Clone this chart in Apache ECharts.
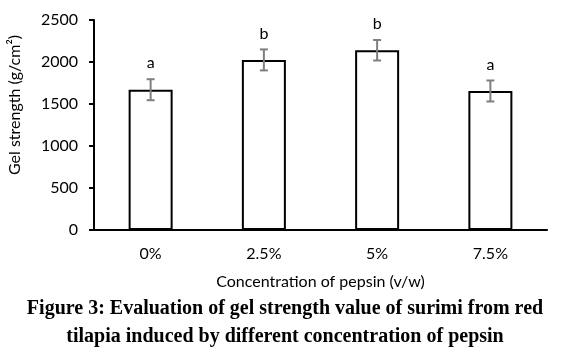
<!DOCTYPE html>
<html>
<head>
<meta charset="utf-8">
<script src="https://cdn.jsdelivr.net/npm/echarts@6/dist/echarts.min.js"></script>
<style>
html,body{margin:0;padding:0;background:#fff;}
#chart{width:570px;height:361px;}
</style>
</head>
<body>
<div id="chart"></div>
<script>
const categories = ['0%', '2.5%', '5%', '7.5%'];
const gelStrength = [1670, 2025, 2140, 1655];
const errors = [125, 125, 122, 125];
const letters = ['a', 'b', 'b', 'a'];
const yTicks = [0, 500, 1000, 1500, 2000, 2500];

const chart = echarts.init(document.getElementById('chart'), null, {renderer: 'canvas'});
const font = 'Lato, "Open Sans", sans-serif';
const capFont = 'bold 20px "Liberation Serif", "Times New Roman", serif';

const errData = categories.map((c, i) => [i, gelStrength[i], errors[i]]);

chart.setOption({
  animation: false,
  backgroundColor: '#fff',
  grid: {left: 94, right: 23, top: 20, bottom: 131, containLabel: false},
  xAxis: {
    type: 'category',
    data: categories,
    axisLine: {lineStyle: {color: '#000', width: 2}},
    axisTick: {show: false},
    axisLabel: {color: '#000', fontFamily: font, fontSize: 16, margin: 16},
    name: 'Concentration of pepsin (v/w)',
    nameLocation: 'middle',
    nameGap: 44,
    nameTextStyle: {color: '#000', fontFamily: font, fontSize: 16}
  },
  yAxis: {
    type: 'value',
    min: yTicks[0],
    max: yTicks[yTicks.length - 1],
    interval: yTicks[1] - yTicks[0],
    splitLine: {show: false},
    axisLine: {show: true, lineStyle: {color: '#000', width: 2}},
    axisTick: {show: true, length: 5, lineStyle: {color: '#000', width: 2}},
    axisLabel: {color: '#000', fontFamily: font, fontSize: 16, margin: 16,
      formatter: function (v) { return String(v); }}
  },
  series: [
    {
      type: 'bar',
      data: gelStrength,
      barWidth: 44,
      itemStyle: {color: '#fff', borderColor: '#000', borderWidth: 2},
      z: 2
    },
    {
      type: 'custom',
      data: errData,
      z: 5,
      renderItem: function (params, api) {
        const i = api.value(0);
        const v = api.value(1);
        const e = api.value(2);
        const top = api.coord([i, v + e]);
        const bot = api.coord([i, v - e]);
        const cap = 4;
        const style = {stroke: '#7f7f7f', lineWidth: 2};
        return {
          type: 'group',
          children: [
            {type: 'line', shape: {x1: top[0], y1: top[1], x2: bot[0], y2: bot[1]}, style: style},
            {type: 'line', shape: {x1: top[0] - cap, y1: top[1], x2: top[0] + cap, y2: top[1]}, style: style},
            {type: 'line', shape: {x1: bot[0] - cap, y1: bot[1], x2: bot[0] + cap, y2: bot[1]}, style: style},
            {type: 'text', style: {
              text: letters[params.dataIndex], x: top[0], y: top[1] - 8,
              textAlign: 'center', textVerticalAlign: 'bottom',
              fill: '#000', font: '16px ' + font
            }}
          ]
        };
      }
    }
  ],
  graphic: [
    {type: 'text', x: 15, y: 105, rotation: Math.PI / 2, style: {
      text: 'Gel strength (g/cm\u00B2)', textAlign: 'center', textVerticalAlign: 'middle',
      fill: '#000', font: '16px ' + font
    }},
    {type: 'text', left: 'center', top: 299, style: {
      text: 'Figure 3: Evaluation of gel strength value of surimi from red',
      fill: '#000', font: capFont
    }},
    {type: 'text', left: 'center', top: 327, style: {
      text: 'tilapia induced by different concentration of pepsin',
      fill: '#000', font: capFont
    }}
  ]
});
</script>
</body>
</html>
